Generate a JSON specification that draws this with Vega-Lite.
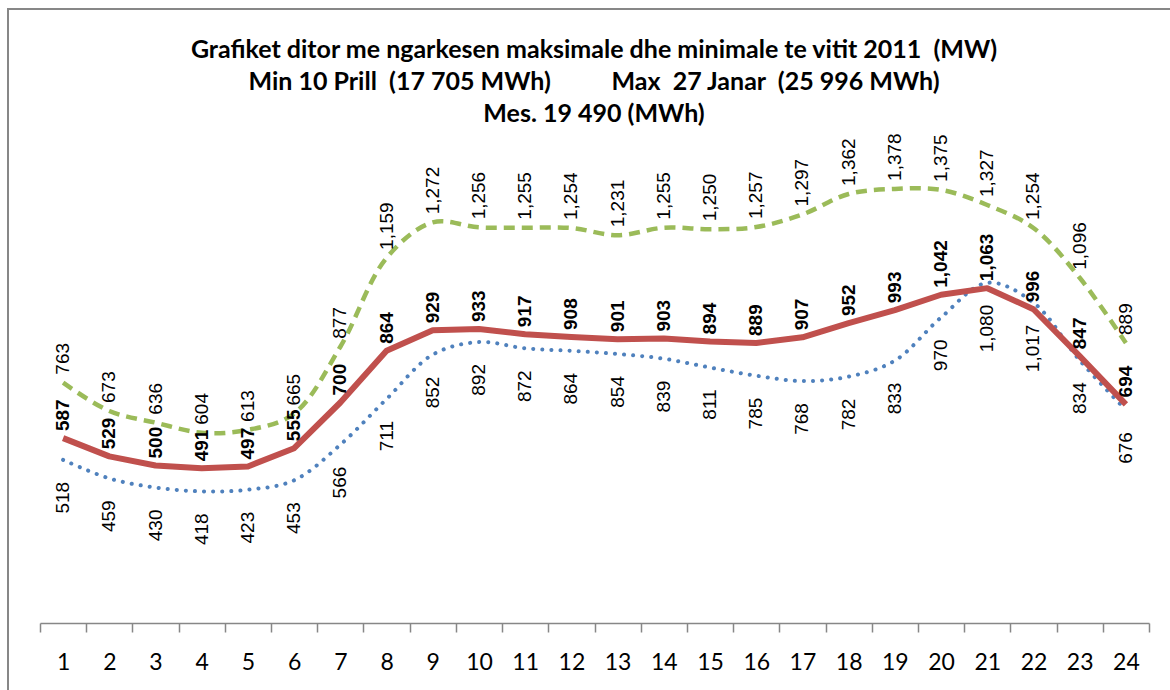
{
  "$schema": "https://vega.github.io/schema/vega-lite/v6.json",
  "autosize": {"type": "none"},
  "padding": {"left": 8, "top": 9, "right": 0, "bottom": 0},
  "width": 1172,
  "height": 700,
  "background": "white",
  "config": {
    "view": {"stroke": "#878787", "strokeWidth": 2},
    "font": "Liberation Sans"
  },
  "title": {
    "text": [
      "Grafiket ditor me ngarkesen maksimale dhe minimale te vitit 2011\u00a0\u00a0(MW)",
      "Min 10 Prill\u00a0\u00a0(17 705 MWh)\u00a0\u00a0\u00a0\u00a0\u00a0\u00a0\u00a0\u00a0\u00a0\u00a0Max\u00a0\u00a027 Janar\u00a0\u00a0(25 996 MWh)",
      "Mes. 19 490 (MWh)"
    ],
    "orient": "top",
    "anchor": "middle",
    "frame": "group",
    "font": "Lato",
    "fontSize": 25,
    "fontWeight": "bold",
    "color": "black",
    "lineHeight": 32,
    "offset": -118
  },
  "data": {
    "values": [
      {"hour": 1, "max": 763, "mean": 587, "min": 518},
      {"hour": 2, "max": 673, "mean": 529, "min": 459},
      {"hour": 3, "max": 636, "mean": 500, "min": 430},
      {"hour": 4, "max": 604, "mean": 491, "min": 418},
      {"hour": 5, "max": 613, "mean": 497, "min": 423},
      {"hour": 6, "max": 665, "mean": 555, "min": 453},
      {"hour": 7, "max": 877, "mean": 700, "min": 566},
      {"hour": 8, "max": 1159, "mean": 864, "min": 711},
      {"hour": 9, "max": 1272, "mean": 929, "min": 852},
      {"hour": 10, "max": 1256, "mean": 933, "min": 892},
      {"hour": 11, "max": 1255, "mean": 917, "min": 872},
      {"hour": 12, "max": 1254, "mean": 908, "min": 864},
      {"hour": 13, "max": 1231, "mean": 901, "min": 854},
      {"hour": 14, "max": 1255, "mean": 903, "min": 839},
      {"hour": 15, "max": 1250, "mean": 894, "min": 811},
      {"hour": 16, "max": 1257, "mean": 889, "min": 785},
      {"hour": 17, "max": 1297, "mean": 907, "min": 768},
      {"hour": 18, "max": 1362, "mean": 952, "min": 782},
      {"hour": 19, "max": 1378, "mean": 993, "min": 833},
      {"hour": 20, "max": 1375, "mean": 1042, "min": 970},
      {"hour": 21, "max": 1327, "mean": 1063, "min": 1080},
      {"hour": 22, "max": 1254, "mean": 996, "min": 1017},
      {"hour": 23, "max": 1096, "mean": 847, "min": 834},
      {"hour": 24, "max": 889, "mean": 694, "min": 676}
    ]
  },
  "encoding": {
    "x": {
      "field": "hour",
      "type": "ordinal",
      "scale": {"type": "band", "paddingInner": 0, "paddingOuter": 0, "range": [32, 1141]},
      "axis": {
        "title": null,
        "labelAngle": 0,
        "labelFont": "Lato",
        "labelFontSize": 23,
        "labelColor": "black",
        "labelPadding": 19,
        "tickBand": "extent",
        "tickSize": 9,
        "tickColor": "#878787",
        "domainColor": "#878787",
        "domainWidth": 1.5,
        "tickWidth": 1.5,
        "offset": -86,
        "grid": false
      }
    }
  },
  "layer": [
    {
      "mark": {"type": "line", "color": "#9BBB59", "strokeWidth": 4.5, "strokeDash": [11, 7], "interpolate": "catmull-rom"},
      "encoding": {
        "y": {"field": "max", "type": "quantitative", "scale": {"domain": [0, 1600], "range": [614, 110], "nice": false, "zero": false}, "axis": null}
      }
    },
    {
      "mark": {"type": "line", "color": "#4F81BD", "strokeWidth": 4, "strokeDash": [0.1, 9], "strokeCap": "round", "interpolate": "catmull-rom"},
      "encoding": {
        "y": {"field": "min", "type": "quantitative", "scale": {"domain": [0, 1600], "range": [614, 110], "nice": false, "zero": false}, "axis": null}
      }
    },
    {
      "mark": {"type": "line", "color": "#C0504D", "strokeWidth": 6, "strokeJoin": "round"},
      "encoding": {
        "y": {"field": "mean", "type": "quantitative", "scale": {"domain": [0, 1600], "range": [614, 110], "nice": false, "zero": false}, "axis": null}
      }
    },
    {
      "mark": {"type": "text", "angle": 270, "align": "left", "baseline": "middle", "dx": 8, "fontSize": 19, "color": "black"},
      "encoding": {
        "y": {"field": "max", "type": "quantitative", "scale": {"domain": [0, 1600], "range": [614, 110], "nice": false, "zero": false}, "axis": null},
        "text": {"field": "max", "type": "quantitative", "format": ",d"}
      }
    },
    {
      "mark": {"type": "text", "angle": 270, "align": "right", "baseline": "middle", "dx": -22, "fontSize": 19, "color": "black"},
      "encoding": {
        "y": {"field": "min", "type": "quantitative", "scale": {"domain": [0, 1600], "range": [614, 110], "nice": false, "zero": false}, "axis": null},
        "text": {"field": "min", "type": "quantitative", "format": ",d"}
      }
    },
    {
      "mark": {"type": "text", "angle": 270, "align": "left", "baseline": "middle", "dx": 7, "fontSize": 19, "fontWeight": "bold", "color": "black"},
      "encoding": {
        "y": {"field": "mean", "type": "quantitative", "scale": {"domain": [0, 1600], "range": [614, 110], "nice": false, "zero": false}, "axis": null},
        "text": {"field": "mean", "type": "quantitative", "format": ",d"}
      }
    }
  ]
}
